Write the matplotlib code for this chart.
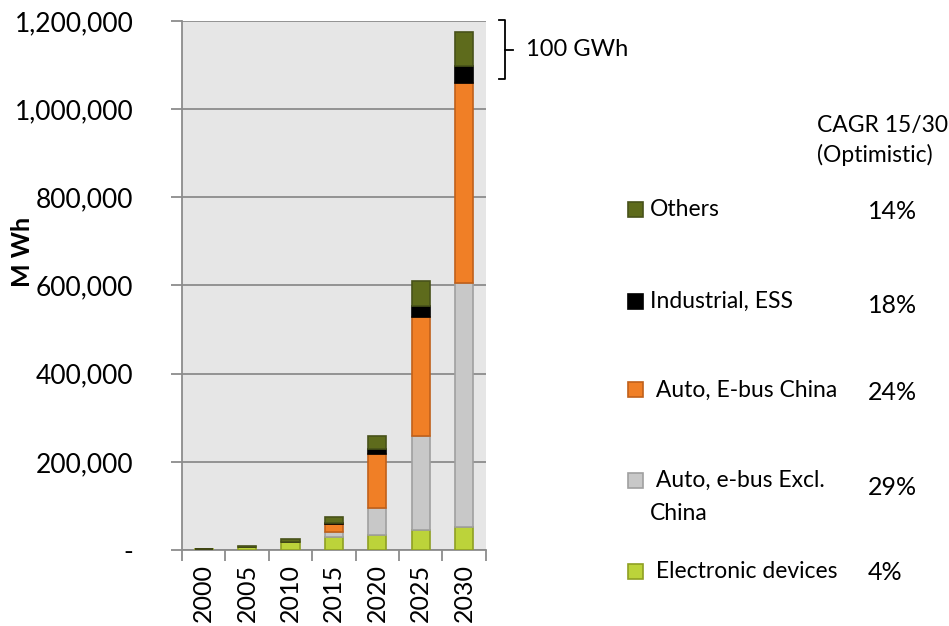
import matplotlib.pyplot as plt
from matplotlib.patches import Rectangle
from matplotlib.ticker import FuncFormatter
import numpy as np

plt.rcParams['font.family'] = ['Lato', 'DejaVu Sans']

years = ['2000', '2005', '2010', '2015', '2020', '2025', '2030']

# stacked series, bottom to top (M Wh)
electronic = [1500, 7000, 19000, 30000, 34000, 46000, 52000]
auto_excl_china = [0, 0, 0, 10000, 60500, 212000, 553000]
auto_china = [0, 0, 0, 19000, 122500, 270000, 454000]
industrial = [0, 0, 0, 3000, 12000, 25000, 38000]
others = [1500, 2000, 6000, 13500, 29500, 57000, 78000]

legend_labels = [' Electronic devices', ' Auto, e-bus Excl.\nChina', ' Auto, E-bus China',
                 'Industrial, ESS', 'Others']
cagr = ['4%', '29%', '24%', '18%', '14%']

face_cols = ['#bcd33a', '#c8c8c8', '#f07f26', '#000000', '#5e6b1c']
edge_cols = ['#8fa023', '#a0a0a0', '#c0601a', '#000000', '#48521a']

fig = plt.figure(figsize=(9.49, 6.26), dpi=100)
ax = fig.add_axes([0.1918, 0.1214, 0.32, 0.8451])
ax.set_facecolor('#e6e6e6')

x = np.arange(len(years))
bottom = np.zeros(len(years))
data = [electronic, auto_excl_china, auto_china, industrial, others]
for vals, fc, ec in zip(data, face_cols, edge_cols):
    ax.bar(x, vals, 0.42, bottom=bottom, color=fc, edgecolor=ec, linewidth=1.2, zorder=3)
    bottom = bottom + np.array(vals)

ax.set_xlim(-0.5, len(years) - 0.5)
ax.set_ylim(0, 1200000)
ax.set_yticks(np.arange(0, 1200001, 200000))
ax.yaxis.set_major_formatter(FuncFormatter(lambda v, p: '-' if v == 0 else '{:,.0f}'.format(v)))
ax.yaxis.grid(True, color='#8c8c8c', linewidth=1.3, zorder=1)
ax.set_xticks(x)
ax.set_xticklabels(years, rotation=90)
# ticks between categories
ax.set_xticks(np.arange(-0.5, len(years), 1), minor=True)
ax.tick_params(axis='x', which='major', length=0, labelsize=18, pad=10)
ax.tick_params(axis='x', which='minor', length=8, color='#8c8c8c', width=1.3)
ax.tick_params(axis='y', length=8, color='#8c8c8c', width=1.3, labelsize=19, pad=27)
for s in ['top', 'right']:
    ax.spines[s].set_visible(False)
for s in ['left', 'bottom']:
    ax.spines[s].set_color('#8c8c8c')
    ax.spines[s].set_linewidth(1.3)

ax.set_ylabel('M Wh', fontsize=18, fontweight='bold')
ax.yaxis.set_label_coords(-0.487, 0.563)

# bracket for the top segments of 2030
b_hi = 1202000
b_lo = 1068000
bx = len(years) - 0.5 + 0.445
tw = 0.14
ax.plot([bx - tw, bx, bx, bx - tw], [b_hi, b_hi, b_lo, b_lo],
        color='black', linewidth=1.3, clip_on=False)
mid = (b_hi + b_lo) / 2
ax.plot([bx, bx + 0.18], [mid, mid], color='black', linewidth=1.3, clip_on=False)
ax.text(len(years) - 0.5 + 0.93, mid, '100 GWh', fontsize=17, va='center', ha='left', clip_on=False)

# custom legend with CAGR column
fig.text(0.861, 0.775, 'CAGR 15/30\n(Optimistic)', fontsize=16.5, ha='left', va='center',
         linespacing=1.45)
leg_y = [0.087, 0.233, 0.377, 0.518, 0.665]
cagr_y = [0.086, 0.222, 0.373, 0.512, 0.662]
sq_w = 15 / 949
sq_h = 15 / 626
for i in range(len(legend_labels)):
    yy = leg_y[i]
    fig.patches.append(Rectangle((628 / 949, yy - sq_h / 2), sq_w, sq_h, transform=fig.transFigure,
                                 facecolor=face_cols[i], edgecolor=edge_cols[i], linewidth=1.2))
    lab = legend_labels[i]
    if '\n' in lab:
        first, second = lab.split('\n')
        fig.text(650 / 949, yy, first, fontsize=16.5, ha='left', va='center')
        fig.text(650 / 949, yy - 0.053, second, fontsize=16.5, ha='left', va='center')
    else:
        fig.text(650 / 949, yy, lab, fontsize=16.5, ha='left', va='center')
    fig.text(868 / 949, cagr_y[i], cagr[i], fontsize=18, ha='left', va='center')

fig.savefig('out.png', dpi=100)
